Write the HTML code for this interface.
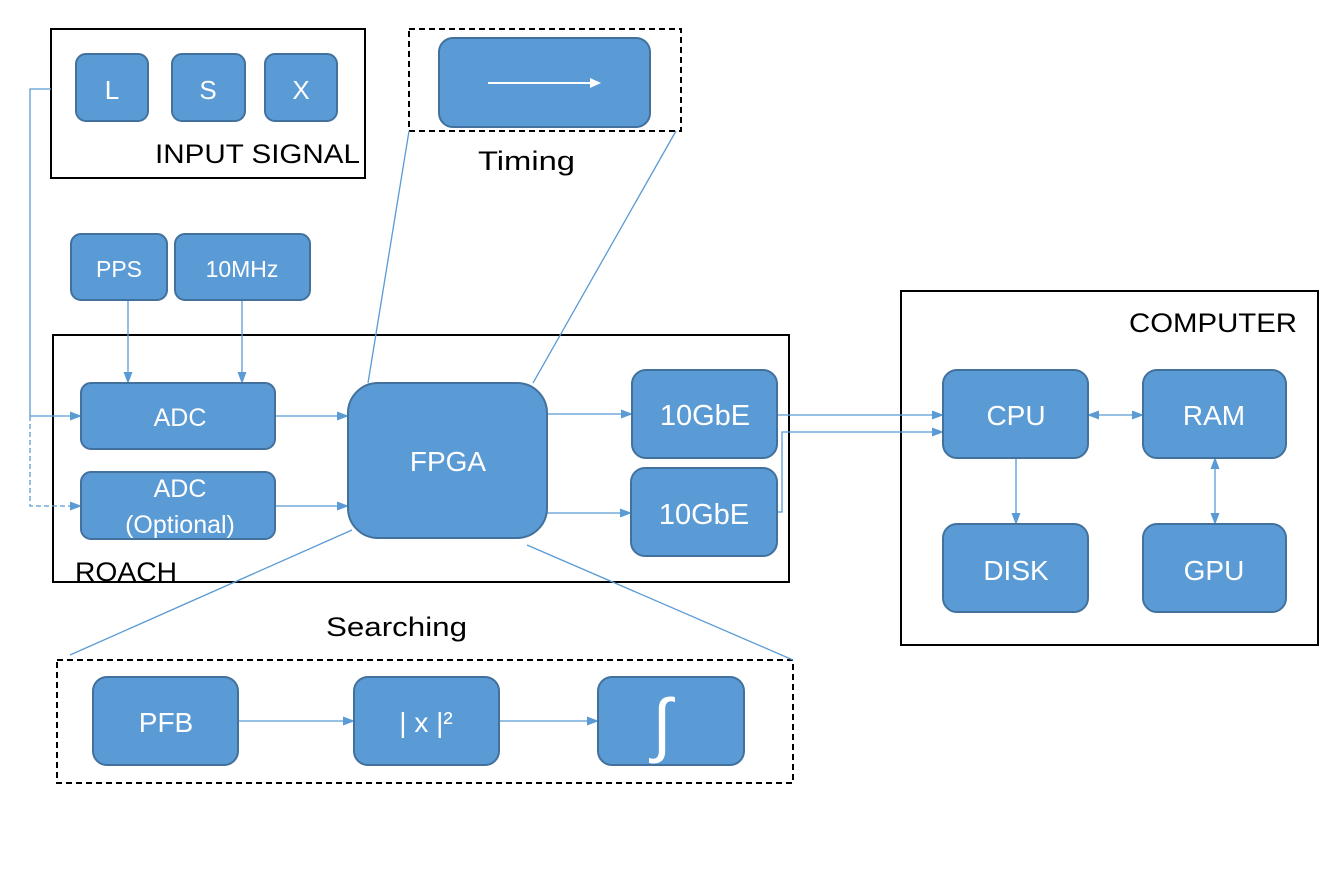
<!DOCTYPE html>
<html><head><meta charset="utf-8"><style>
html,body{margin:0;padding:0;background:#fff;}
svg text{font-family:"Liberation Sans",sans-serif;}
</style></head><body>
<svg width="1333" height="871" viewBox="0 0 1333 871" xmlns="http://www.w3.org/2000/svg">
<defs>
<marker id="a" markerWidth="12" markerHeight="9" refX="11" refY="4.5" orient="auto" markerUnits="userSpaceOnUse"><path d="M0,0 L12,4.5 L0,9 z" fill="#5b9bd5"/></marker>
<marker id="as" markerWidth="12" markerHeight="9" refX="1" refY="4.5" orient="auto" markerUnits="userSpaceOnUse"><path d="M12,0 L0,4.5 L12,9 z" fill="#5b9bd5"/></marker>
</defs>
<g fill="none" stroke="#000" stroke-width="2">
<rect x="51" y="29" width="314" height="149"/>
<rect x="53" y="335" width="736" height="247"/>
<rect x="901" y="291" width="417" height="354"/>
<rect x="409" y="29" width="272" height="102" stroke-dasharray="6,4"/>
<rect x="57" y="660" width="736" height="123" stroke-dasharray="6,4"/>
</g>
<g stroke="#5b9bd5" stroke-width="1.3" fill="none">
<line x1="368" y1="383" x2="409" y2="131"/>
<line x1="533" y1="383" x2="676" y2="131"/>
<line x1="352" y1="530" x2="70" y2="655"/>
<line x1="527" y1="545" x2="793" y2="660"/>
<polyline points="51,89 30,89 30,416 81,416" marker-end="url(#a)"/>
<polyline points="30,416 30,506 81,506" stroke-dasharray="5,3" marker-end="url(#a)"/>
<line x1="128" y1="300" x2="128" y2="383" marker-end="url(#a)"/>
<line x1="242" y1="300" x2="242" y2="383" marker-end="url(#a)"/>
<line x1="275" y1="416" x2="348" y2="416" marker-end="url(#a)"/>
<line x1="275" y1="506" x2="348" y2="506" marker-end="url(#a)"/>
<line x1="547" y1="414" x2="632" y2="414" marker-end="url(#a)"/>
<line x1="547" y1="513" x2="631" y2="513" marker-end="url(#a)"/>
<line x1="777" y1="415" x2="943" y2="415" marker-end="url(#a)"/>
<polyline points="777,512 782,512 782,432 943,432" marker-end="url(#a)"/>
<line x1="1088" y1="415" x2="1143" y2="415" marker-start="url(#as)" marker-end="url(#a)"/>
<line x1="1215" y1="458" x2="1215" y2="524" marker-start="url(#as)" marker-end="url(#a)"/>
<line x1="1016" y1="458" x2="1016" y2="524" marker-end="url(#a)"/>
<line x1="238" y1="721" x2="354" y2="721" marker-end="url(#a)"/>
<line x1="499" y1="721" x2="598" y2="721" marker-end="url(#a)"/>
</g>
<g fill="#5b9bd5" stroke="#41719c" stroke-width="2">
<rect x="76" y="54" width="72" height="67" rx="10"/>
<rect x="172" y="54" width="73" height="67" rx="10"/>
<rect x="265" y="54" width="72" height="67" rx="10"/>
<rect x="439" y="38" width="211" height="89" rx="14"/>
<rect x="71" y="234" width="96" height="66" rx="10"/>
<rect x="175" y="234" width="135" height="66" rx="10"/>
<rect x="81" y="383" width="194" height="66" rx="10"/>
<rect x="81" y="472" width="194" height="67" rx="10"/>
<rect x="348" y="383" width="199" height="155" rx="30"/>
<rect x="632" y="370" width="145" height="88" rx="14"/>
<rect x="631" y="468" width="146" height="88" rx="14"/>
<rect x="943" y="370" width="145" height="88" rx="14"/>
<rect x="1143" y="370" width="143" height="88" rx="14"/>
<rect x="943" y="524" width="145" height="88" rx="14"/>
<rect x="1143" y="524" width="143" height="88" rx="14"/>
<rect x="93" y="677" width="145" height="88" rx="14"/>
<rect x="354" y="677" width="145" height="88" rx="14"/>
<rect x="598" y="677" width="146" height="88" rx="14"/>
</g>
<line x1="488" y1="83" x2="592" y2="83" stroke="#fff" stroke-width="2"/>
<path d="M590,78 L601,83 L590,88 z" fill="#fff"/>
<g fill="#fff" text-anchor="middle" font-size="26">
<text x="112" y="99">L</text>
<text x="208" y="99">S</text>
<text x="301" y="99">X</text>
<text x="119" y="277" font-size="23">PPS</text>
<text x="242" y="277" font-size="23">10MHz</text>
<text x="180" y="426" font-size="25">ADC</text>
<text x="180" y="497" font-size="25">ADC</text>
<text x="180" y="533" font-size="25">(Optional)</text>
<text x="448" y="471" font-size="28">FPGA</text>
<text x="705" y="425" font-size="29">10GbE</text>
<text x="704" y="524" font-size="29">10GbE</text>
<text x="1016" y="425" font-size="28">CPU</text>
<text x="1214" y="425" font-size="28">RAM</text>
<text x="1016" y="580" font-size="28">DISK</text>
<text x="1214" y="580" font-size="28">GPU</text>
<text x="166" y="732" font-size="28">PFB</text>
<text x="426" y="732" font-size="28">| x |²</text>
<text x="662" y="748" font-size="70" font-family="Liberation Serif" font-style="italic">∫</text>
</g>
<g fill="#000" font-size="27">
<text x="155" y="163" textLength="205" lengthAdjust="spacingAndGlyphs">INPUT SIGNAL</text>
<text x="478" y="170" textLength="97" lengthAdjust="spacingAndGlyphs">Timing</text>
<text x="75" y="581" textLength="102" lengthAdjust="spacingAndGlyphs">ROACH</text>
<text x="1129" y="332" textLength="168" lengthAdjust="spacingAndGlyphs">COMPUTER</text>
<text x="326" y="636" textLength="141" lengthAdjust="spacingAndGlyphs">Searching</text>
</g>
</svg>
</body></html>
